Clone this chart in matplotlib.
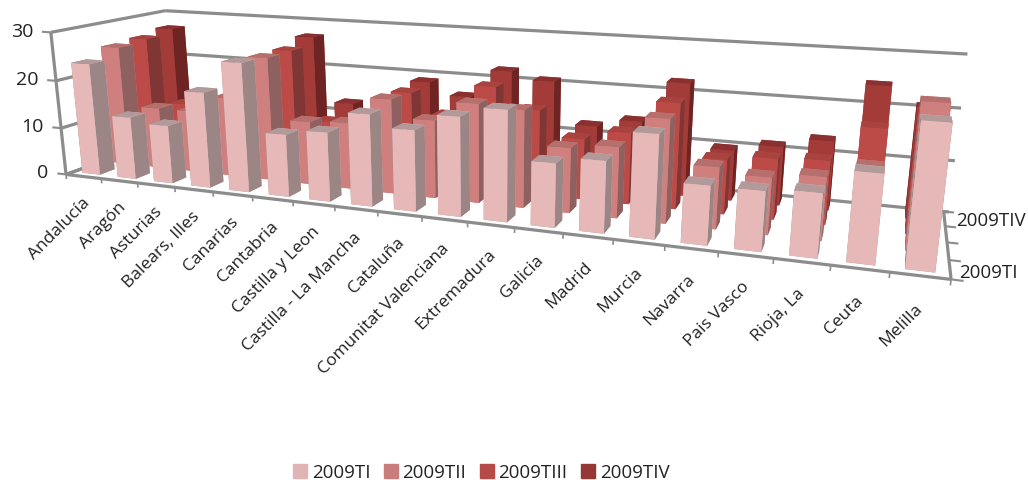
import numpy as np
import matplotlib
matplotlib.use("Agg")
import matplotlib.pyplot as plt
from matplotlib.patches import Patch
from mpl_toolkits.mplot3d import proj3d

plt.rcParams['font.family'] = ['Open Sans', 'DejaVu Sans']

# Data
categories = ["Andalucía", "Aragón", "Asturias", "Balears, Illes", "Canarias", "Cantabria",
              "Castilla y Leon", "Castilla - La Mancha", "Cataluña", "Comunitat Valenciana",
              "Extremadura", "Galicia", "Madrid", "Murcia", "Navarra", "Pais Vasco",
              "Rioja, La", "Ceuta", "Melilla"]
series_names = ["2009TI", "2009TII", "2009TIII", "2009TIV"]
t1 = [23.5, 13, 12, 19.5, 26, 12.5, 13.7, 18, 15.7, 19, 21, 12, 13.3, 18.9, 10.7, 10.7, 11.3, 15.5, 24.6]
t2 = [25.5, 13, 13, 16.5, 25.5, 13, 13.5, 19, 15.5, 19.5, 19, 12.5, 13.5, 19.5, 11.5, 10.5, 11.5, 14, 25.8]
t3 = [26, 12, 12, 15.5, 25.5, 11, 11, 18.5, 14.5, 21, 17, 12, 14, 20.5, 10.5, 11.5, 12, 18.7, 22]
t4 = [27, 11, 12, 13, 27, 13, 12, 19, 16.5, 22.5, 21, 12.5, 14.2, 22.5, 10, 11.5, 13.4, 24.5, 21]
values = [t1, t2, t3, t4]
y_ticks = [0, 10, 20, 30]

# front, top and side colours per series
face_colors = ["#E6B9B8", "#CF7F7D", "#BC4A47", "#A33B38"]
top_colors = ["#B39A9A", "#B56F6D", "#A84340", "#8A3030"]
side_colors = ["#9C8585", "#8F6060", "#7F3634", "#6E2422"]
legend_colors = ["#E0B4B4", "#C87C7C", "#B54A48", "#953735"]
line_color = "#8C8C8C"
text_color = "#222222"

n_cat = len(categories)
n_ser = len(series_names)
bar_w = 0.5
bar_d = 0.5

# Where the chart box lands in the picture, used to fit the camera
box_points = [
    ((0, 0, 0), (65, 175)), ((n_cat, 0, 0), (951, 280)), ((n_cat, n_ser, 0), (941, 212)),
    ((0, n_ser, 0), (175, 136)), ((0, 0, 30), (50, 33)), ((0, n_ser, 30), (165, 12)),
    ((n_cat, n_ser, 30), (960, 55)), ((9, 0, 0), (422, 219)), ((0, 0, 10), (62, 129)),
    ((0, 0, 20), (57, 82)), ((n_cat, n_ser, 10), (953, 162)), ((n_cat, n_ser, 20), (957, 108)),
]

W, H = 1028, 481
fig = plt.figure(figsize=(W / 100, H / 100), dpi=100)
# square axes, wider than the figure is tall, because mplot3d forces a square box
ax = fig.add_axes([0, (H - W) / 2 / H, 1, W / H], projection='3d', computed_zorder=False)
ax.set_axis_off()
ax.patch.set_visible(False)
ax.apply_aspect()
to_view = ax.transData.inverted()


def fit_camera():
    rows = []
    for (x, y, z), (px, py) in box_points:
        u, v = to_view.transform((px, H - py))
        X = [x / n_cat, y / n_ser, z / 30, 1]
        rows.append(X + [0, 0, 0, 0] + [-u * c for c in X])
        rows.append([0, 0, 0, 0] + X + [-v * c for c in X])
    p = np.linalg.svd(np.array(rows))[2][-1].reshape(3, 4)
    p = p @ np.diag([1 / n_cat, 1 / n_ser, 1 / 30, 1])
    if p[2, 3] < 0:
        p = -p
    # third row only has to sort faces: far points get a larger value
    return np.array([p[0], p[1], [0, 0, 0, -p[2, 3]], p[2]])


M = fit_camera()
ax.get_proj = lambda: M


def line3(xs, ys, zs, lw=2.3):
    ax.plot(xs, ys, zs, color=line_color, lw=lw, zorder=1, solid_capstyle='butt')


def label(x, y, z, s, **kw):
    # Text3D ignores rotation, so place plain text at the projected point
    u, v, _ = proj3d.proj_transform(x, y, z, M)
    ax.text2D(u, v, s, transform=ax.transData, color=text_color, zorder=5000, **kw)


# Box frame
line3([0, 0], [0, 0], [0, 30])
line3([0, n_cat], [0, 0], [0, 0])
line3([n_cat, n_cat], [0, n_ser], [0, 0])
line3([0, 0], [0, n_ser], [0, 0])
for z in y_ticks:
    line3([0, 0], [0, n_ser], [z, z])
    line3([0, n_cat + 0.1], [n_ser, n_ser], [z, z])
    line3([-0.25, 0], [0, 0], [z, z], lw=1.5)
    label(-0.5, 0, z, str(z), ha='right', va='center', fontsize=14)
for i in range(n_cat + 1):
    line3([i, i], [0, 0], [0, -1], lw=1.2)
for j in range(n_ser + 1):
    line3([n_cat, n_cat + 0.2], [j, j], [0, 0], lw=1.5)

# Bars, back row first
order = 10
for s in reversed(range(n_ser)):
    for i in range(n_cat):
        colors = [top_colors[s], top_colors[s], face_colors[s], face_colors[s],
                  side_colors[s], side_colors[s]]
        ax.bar3d(i + (1 - bar_w) / 2, s + (1 - bar_d) / 2, 0, bar_w, bar_d, values[s][i],
                 color=colors, shade=False, linewidth=0, zorder=order)
        order += 1

# Labels
for i, name in enumerate(categories):
    label(i + 0.55, 0, -5, name, rotation=45, rotation_mode='anchor', ha='right', va='center',
          fontsize=12.5)
label(n_cat + 0.15, 0.45, 0, series_names[0], ha='left', va='center', fontsize=13.5)
label(n_cat + 0.22, 3.5, 0, series_names[3], ha='left', va='center', fontsize=13.5)

handles = [Patch(color=c) for c in legend_colors]
fig.legend(handles, series_names, loc='lower center', bbox_to_anchor=(0.468, -0.038), ncol=4,
           frameon=False, fontsize=13.5, handlelength=0.75, handleheight=0.75, handletextpad=0.25,
           columnspacing=0.72, labelcolor=text_color)

fig.savefig("out.png", dpi=100)
